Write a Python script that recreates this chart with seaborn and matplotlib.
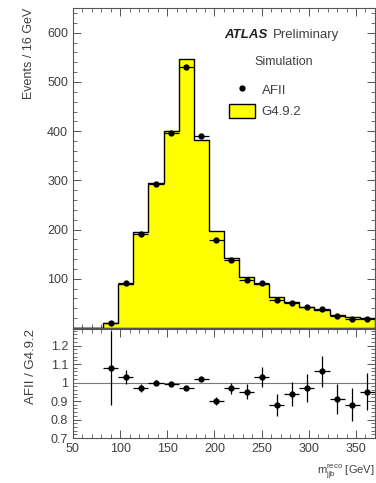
import numpy as np
import pandas as pd
import seaborn as sns
import matplotlib.pyplot as plt
import matplotlib.ticker as mticker
from matplotlib.lines import Line2D
from matplotlib.patches import Patch

# bin edges, 16 GeV wide
edges = list(range(50, 371, 16))
centers = [e + 8 for e in edges[:-1]]

# G4.9.2 histogram
g4 = [0, 0, 10, 89, 195, 294, 400, 546, 383, 198, 142, 103, 89, 63, 53, 43, 37, 26, 22, 20]
# AFII points (from bin 82-98 on)
afii = [11, 92, 190, 293, 397, 530, 390, 179, 138, 98, 92, 56, 50, 42, 39, 24, 19, 19]
# ratio AFII / G4.9.2 and its errors
ratio = [1.08, 1.03, 0.97, 1.00, 0.99, 0.97, 1.02, 0.90, 0.97, 0.95, 1.03, 0.88, 0.94, 0.97, 1.06, 0.91, 0.88, 0.95]
ratio_err = [0.20, 0.04, 0.02, 0.015, 0.01, 0.01, 0.012, 0.02, 0.03, 0.04, 0.055, 0.06, 0.065, 0.077, 0.085, 0.08, 0.09, 0.10]

sns.set_theme(style="white")
plt.rcParams['font.family'] = ['Liberation Sans', 'DejaVu Sans']
plt.rcParams['mathtext.fontset'] = 'custom'
plt.rcParams['mathtext.rm'] = 'Liberation Sans'
plt.rcParams['mathtext.it'] = 'Liberation Sans:italic'
txt = '#404040'

fig = plt.figure(figsize=(3.76, 4.83), dpi=100)
ax = fig.add_axes([0.194, 0.321, 0.803, 0.662])
axr = fig.add_axes([0.194, 0.093, 0.803, 0.226], sharex=ax)

df = pd.DataFrame({"m": centers, "n": g4})
sns.histplot(data=df, x="m", weights="n", bins=edges, element="step", fill=True,
             color="#ffff00", alpha=1, edgecolor="black", linewidth=1.0, ax=ax)

pts = pd.DataFrame({"m": centers[2:], "n": afii, "r": ratio, "re": ratio_err})
ax.errorbar(pts["m"], pts["n"], xerr=8, fmt="o", color="black", ms=3.5,
            elinewidth=0.9, capsize=0)

axr.axhline(1.0, color="#777777", lw=0.8)
axr.errorbar(pts["m"], pts["r"], xerr=8, yerr=pts["re"], fmt="o", color="black",
             ms=3.5, elinewidth=0.9, capsize=0)

ax.set_xlim(50, 370)
ax.set_ylim(0, 650)
axr.set_ylim(0.7, 1.29)

for a in (ax, axr):
    a.tick_params(which="both", direction="in", top=True, right=True, bottom=True, left=True,
                  labelsize=9, labelcolor=txt, color="#555555")
    a.tick_params(which="major", length=6, width=0.7)
    a.tick_params(which="minor", length=3, width=0.6)
    a.xaxis.set_major_locator(mticker.MultipleLocator(50))
    a.xaxis.set_minor_locator(mticker.MultipleLocator(10))
    for s in a.spines.values():
        s.set_color("#555555")
        s.set_linewidth(0.8)

ax.yaxis.set_major_locator(mticker.FixedLocator([100, 200, 300, 400, 500, 600]))
ax.yaxis.set_minor_locator(mticker.MultipleLocator(20))
ax.tick_params(labelbottom=False)
ax.set_xlabel("")
ax.set_ylabel("Events / 16 GeV", fontsize=9, color=txt, loc="top", labelpad=9)

axr.yaxis.set_major_locator(mticker.FixedLocator([0.7, 0.8, 0.9, 1.0, 1.1, 1.2]))
axr.yaxis.set_major_formatter(mticker.FixedFormatter(["0.7", "0.8", "0.9", "1", "1.1", "1.2"]))
axr.yaxis.set_minor_locator(mticker.MultipleLocator(0.02))
axr.set_ylabel("AFII / G4.9.2", fontsize=9.5, color=txt, loc="top", labelpad=10)
axr.set_xlabel(r"m$_{\rm jjb}^{\rm reco}$ [GeV]", fontsize=8, color=txt, loc="right", labelpad=5)

fig.text(224/376, 1-35/483, "ATLAS", fontsize=9.5, fontweight="bold", fontstyle="italic",
         color="#222222", va="center")
fig.text(273/376, 1-35/483, "Preliminary", fontsize=9.5, color=txt, va="center")
fig.text(284/376, 1-62/483, "Simulation", fontsize=9, color=txt, va="center", ha="center")

handles = [Line2D([], [], marker="o", color="black", ls="none", ms=3.5),
           Patch(facecolor="#ffff00", edgecolor="black", linewidth=1.0)]
ax.legend(handles, ["AFII", "G4.9.2"], loc="upper left", bbox_to_anchor=(222/376, 1-76/483),
          bbox_transform=fig.transFigure, frameon=False, fontsize=9.5, handlelength=2.0,
          handleheight=1.3, labelspacing=0.5, borderpad=0, handletextpad=0.5, labelcolor=txt)

fig.savefig("out.png", dpi=100)
